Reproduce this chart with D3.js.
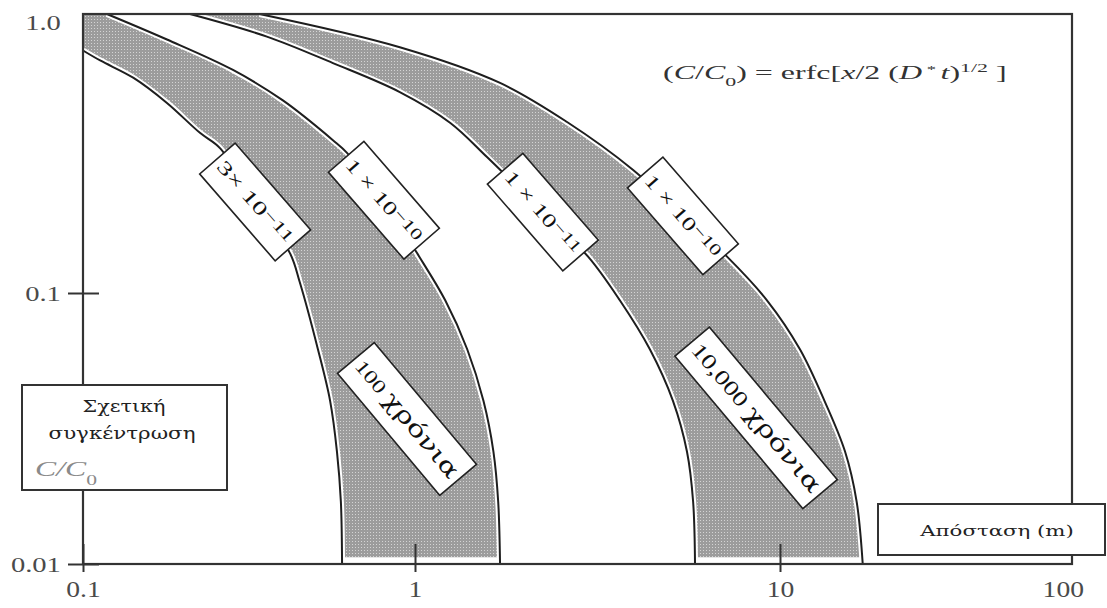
<!DOCTYPE html>
<html>
<head>
<meta charset="utf-8">
<script src="https://cdn.jsdelivr.net/npm/d3@7"></script>
<style>
  body { margin: 0; background: #fff; }
  svg { display: block; }
  text { font-family: "Liberation Serif", "DejaVu Serif", serif; }
  .greek { font-family: "DejaVu Serif", serif; }
</style>
</head>
<body>
<svg width="1107" height="608"></svg>
<script>
// [distance (m), C/C0]
const curve3e11_100y = [[0.100, 0.74], [0.113, 0.68], [0.142, 0.59], [0.179, 0.48], [0.225, 0.375], [0.259, 0.33],
  [0.330, 0.21], [0.420, 0.139], [0.450, 0.109], [0.510, 0.062], [0.555, 0.040], [0.582, 0.026], [0.598, 0.017], [0.603, 0.01]];
const curve1e10_100y = [[0.118, 1.0], [0.179, 0.81], [0.283, 0.63], [0.400, 0.49], [0.566, 0.353], [0.624, 0.318],
  [0.806, 0.215], [1.013, 0.139], [1.21, 0.094], [1.39, 0.062], [1.54, 0.040], [1.64, 0.026], [1.69, 0.017], [1.71, 0.01]];
const curve1e11_10000y = [[0.210, 1.0], [0.358, 0.83], [0.566, 0.667], [0.90, 0.525], [1.25, 0.407], [1.575, 0.307],
  [2.24, 0.195], [2.98, 0.135], [3.64, 0.094], [4.40, 0.062], [5.09, 0.040], [5.56, 0.026], [5.78, 0.017], [5.85, 0.01]];
const curve1e10_10000y = [[0.34, 1.0], [0.90, 0.76], [1.71, 0.566], [2.61, 0.410], [3.96, 0.276], [5.42, 0.189],
  [7.16, 0.135], [9.21, 0.094], [11.7, 0.062], [14.2, 0.040], [16.7, 0.026], [18.3, 0.017], [19.2, 0.01]];

const bands = [
  [curve3e11_100y, curve1e10_100y],
  [curve1e11_10000y, curve1e10_10000y]
];

const xTicks = [0.1, 1, 10, 100];
const xTickLabels = ['0.1', '1', '10', '100'];
const yTicks = [1, 0.1, 0.01];
const yTickLabels = ['1.0', '0.1', '0.01'];

// diffusion coefficient labels, anchored on their curve [distance, C/C0]
const coefLabels = [
  { lead: '3× 10', exp: '−11', at: [0.330, 0.212] },
  { lead: '1 × 10', exp: '−10', at: [0.806, 0.215] },
  { lead: '1 × 10', exp: '−11', at: [2.24, 0.195] },
  { lead: '1 × 10', exp: '−10', at: [5.42, 0.189] }
];
const timeLabels = [
  { num: '100', word: 'χρόνια', at: [0.946, 0.0343] },
  { num: '10,000', word: 'χρόνια', at: [8.6, 0.0346] }
];

const svg = d3.select('svg');

/* ==================================
Scales (log-log, piecewise to follow the scanned figure)
================================== */
const x = d3.scaleLog().domain(xTicks).range([83, 415, 780, 1072]);
const y = d3.scaleLog().domain(yTicks).range([14, 293, 564]);

const defs = svg.append('defs');
const pat = defs.append('pattern')
  .attr('id', 'halftone')
  .attr('width', 3).attr('height', 3)
  .attr('patternUnits', 'userSpaceOnUse');
pat.append('rect').attr('width', 3).attr('height', 3).attr('fill', '#9c9c9c');
pat.append('rect').attr('x', 1).attr('y', 1).attr('width', 1).attr('height', 1).attr('fill', '#d4d4d4');

defs.append('clipPath').attr('id', 'bandClip')
  .append('rect')
  .attr('x', x(0.1)).attr('y', y(1))
  .attr('width', x(100) - x(0.1))
  .attr('height', y(0.0106) - y(1));

const line = d3.line()
  .x(d => x(d[0]))
  .y(d => y(d[1]))
  .curve(d3.curveCatmullRom.alpha(0.5));

/* ==================================
Shaded bands
================================== */
svg.append('g')
  .attr('clip-path', 'url(#bandClip)')
  .selectAll('path')
  .data(bands)
  .join('path')
  .attr('d', ([left, right]) => {
    const back = line(left.slice().reverse()).slice(1);
    return line(right) + 'L' + back + 'L' + x(left[0][0]) + ',' + y(1) + 'Z';
  })
  .attr('fill', 'url(#halftone)');

/* ==================================
Curves
================================== */
const allCurves = bands.flat();
svg.append('g').selectAll('path')
  .data(allCurves)
  .join('path')
  .attr('d', line)
  .attr('fill', 'none')
  .attr('stroke', '#fff')
  .attr('stroke-width', 6);

svg.append('g').selectAll('path')
  .data(allCurves)
  .join('path')
  .attr('d', line)
  .attr('fill', 'none')
  .attr('stroke', '#1e1e1e')
  .attr('stroke-width', 2);

/* ==================================
Frame and axes
================================== */
svg.append('rect')
  .attr('x', x(0.1)).attr('y', y(1))
  .attr('width', x(100) - x(0.1))
  .attr('height', y(0.01) - y(1))
  .attr('fill', 'none')
  .attr('stroke', '#333')
  .attr('stroke-width', 2.2);

const xAxis = svg.append('g')
  .attr('transform', `translate(0,${y(0.01)})`)
  .call(d3.axisBottom(x).tickValues(xTicks).tickFormat((d, i) => xTickLabels[i]));
xAxis.select('.domain').remove();
xAxis.selectAll('.tick line')
  .attr('y1', -20).attr('y2', 8)
  .attr('stroke', '#333').attr('stroke-width', 2)
  .attr('display', (d, i) => i === 3 ? 'none' : null);
xAxis.selectAll('.tick text')
  .attr('y', 16).attr('dy', '0.71em')
  .attr('x', (d, i) => i === 3 ? -8 : 0)
  .attr('transform', 'scale(1.15,1)')
  .attr('fill', '#4a4a4a')
  .style('font-family', '"Liberation Serif", serif')
  .style('font-size', '24px');

const yAxis = svg.append('g')
  .attr('transform', `translate(${x(0.1)},0)`)
  .call(d3.axisLeft(y).tickValues(yTicks).tickFormat((d, i) => yTickLabels[i]));
yAxis.select('.domain').remove();
yAxis.selectAll('.tick line')
  .attr('x1', -15).attr('x2', 16)
  .attr('stroke', '#333').attr('stroke-width', 2)
  .attr('display', (d, i) => i === 0 ? 'none' : null);
yAxis.selectAll('.tick text')
  .attr('x', -17)
  .attr('dy', (d, i) => i === 0 ? '0.7em' : '0.32em')
  .attr('transform', 'scale(1.3,1)')
  .attr('fill', '#4a4a4a')
  .style('font-family', '"Liberation Serif", serif')
  .style('font-size', '22px');

// stretch a text horizontally so it covers the given width
function fit(sel, w) {
  const bb = sel.node().getBBox();
  sel.attr('transform', `scale(${w / bb.width},1)`);
}

/* ==================================
Curve labels
================================== */
coefLabels.forEach(d => {
  const g = svg.append('g')
    .attr('transform', `translate(${x(d.at[0])},${y(d.at[1])}) rotate(49)`);
  g.append('rect')
    .attr('x', -57.5).attr('y', -23.5)
    .attr('width', 115).attr('height', 47)
    .attr('fill', '#fff').attr('stroke', '#222').attr('stroke-width', 1.6);
  const t = g.append('text')
    .attr('text-anchor', 'middle')
    .attr('y', 7)
    .style('font-size', '19px')
    .attr('fill', '#111');
  t.append('tspan').text(d.lead);
  t.append('tspan').attr('baseline-shift', '25%').style('font-size', '16px').text(d.exp);
  fit(t, 104);
});

const timeBox = [{ len: 159, wid: 48, fill: 148 }, { len: 199, wid: 45, fill: 188 }];
timeLabels.forEach((d, i) => {
  const b = timeBox[i];
  const g = svg.append('g')
    .attr('transform', `translate(${x(d.at[0])},${y(d.at[1])}) rotate(50)`);
  g.append('rect')
    .attr('x', -b.len / 2).attr('y', -b.wid / 2)
    .attr('width', b.len).attr('height', b.wid)
    .attr('fill', '#fff').attr('stroke', '#222').attr('stroke-width', 1.6);
  const t = g.append('text')
    .attr('text-anchor', 'middle')
    .attr('y', 7)
    .attr('fill', '#111');
  t.append('tspan').style('font-size', i === 0 ? '19px' : '21px').text(d.num + ' ');
  t.append('tspan').attr('class', 'greek').style('font-size', '23px').text(d.word);
  fit(t, b.fill);
});

/* ==================================
Axis title boxes and formula
================================== */
const yBox = svg.append('g');
yBox.append('rect')
  .attr('x', 22).attr('y', 385).attr('width', 205).attr('height', 105)
  .attr('fill', '#fff').attr('stroke', '#333').attr('stroke-width', 2);
[['Σχετική', 124, 412, 83], ['συγκέντρωση', 122, 439, 147]].forEach(([s, cx, by, w]) => {
  const t = yBox.append('g').attr('transform', `translate(${cx},${by})`)
    .append('text').attr('class', 'greek').attr('text-anchor', 'middle')
    .style('font-size', '17px').attr('fill', '#222').text(s);
  fit(t, w);
});
const cc = yBox.append('g').attr('transform', 'translate(35,476)')
  .append('text').style('font-size', '22px').style('font-style', 'italic').attr('fill', '#8a8a8a');
cc.append('tspan').text('C/C');
cc.append('tspan').attr('baseline-shift', 'sub').style('font-size', '15px').style('font-style', 'normal').text('0');
fit(cc, 62);

const xBox = svg.append('g');
xBox.append('rect')
  .attr('x', 878).attr('y', 504).attr('width', 227).attr('height', 51)
  .attr('fill', '#fff').attr('stroke', '#333').attr('stroke-width', 2);
const xt = xBox.append('g').attr('transform', 'translate(997,536)')
  .append('text').attr('class', 'greek').attr('text-anchor', 'middle')
  .style('font-size', '15px').attr('fill', '#222').text('Απόσταση (m)');
fit(xt, 155);

const f = svg.append('g').attr('transform', 'translate(663,79)')
  .append('text').style('font-size', '19px').attr('fill', '#333');
const part = (s, it, shift, size) => {
  const sp = f.append('tspan').text(s);
  if (it) sp.style('font-style', 'italic');
  if (shift) sp.attr('baseline-shift', shift);
  if (size) sp.style('font-size', size);
};
part('(');
part('C', true);
part('/');
part('C', true);
part('0', false, 'sub', '13px');
part(') = erfc[');
part('x', true);
part('/2 (');
part('D', true);
part(' * ', false, 'super', '11px');
part('t', true);
part(')');
part('1/2', false, 'super', '13px');
part(' ]');
fit(f, 344);
</script>
</body>
</html>
